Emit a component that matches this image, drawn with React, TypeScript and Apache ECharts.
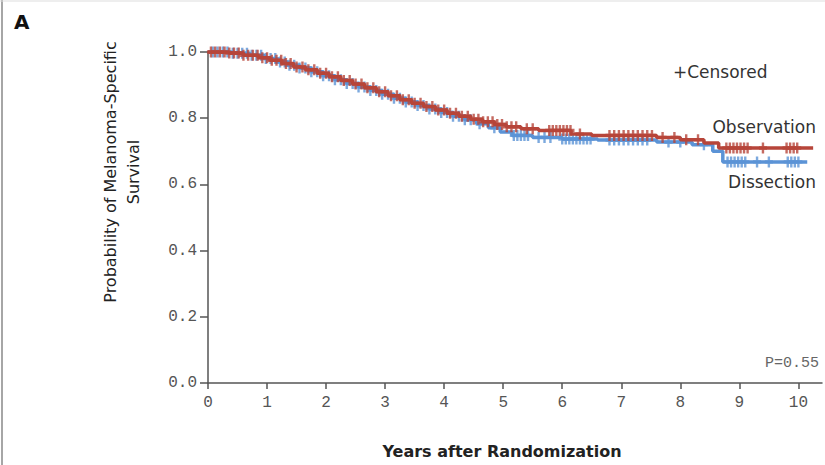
import React, { useEffect, useRef } from "react";
import * as echarts from "echarts";

// Kaplan-Meier step points [years, survival]
const observationSteps: [number, number][] = [
  [0, 1.0], [0.35, 0.997], [0.6, 0.99], [0.85, 0.983], [1.05, 0.975], [1.25, 0.965],
  [1.45, 0.955], [1.65, 0.946], [1.85, 0.936], [2.05, 0.925], [2.25, 0.914], [2.45, 0.903],
  [2.65, 0.892], [2.85, 0.88], [3.05, 0.868], [3.25, 0.856], [3.45, 0.845], [3.65, 0.835],
  [3.85, 0.825], [4.05, 0.815], [4.25, 0.806], [4.45, 0.797], [4.65, 0.789], [4.85, 0.781],
  [5.05, 0.774], [5.3, 0.768], [5.6, 0.763], [6.15, 0.752], [6.5, 0.748], [7.6, 0.742],
  [8.0, 0.735], [8.4, 0.725], [8.65, 0.71], [10.25, 0.71],
];
const dissectionSteps: [number, number][] = [
  [0, 1.0], [0.4, 0.996], [0.7, 0.99], [0.95, 0.98], [1.15, 0.97], [1.35, 0.96],
  [1.55, 0.952], [1.75, 0.94], [1.95, 0.928], [2.15, 0.916], [2.35, 0.905], [2.55, 0.894],
  [2.75, 0.884], [2.95, 0.872], [3.15, 0.86], [3.35, 0.849], [3.55, 0.838], [3.75, 0.828],
  [3.95, 0.817], [4.15, 0.806], [4.35, 0.795], [4.55, 0.783], [4.75, 0.771], [4.95, 0.758],
  [5.15, 0.748], [5.5, 0.742], [6.0, 0.737], [6.6, 0.734], [7.6, 0.728], [8.2, 0.72],
  [8.55, 0.7], [8.72, 0.668], [10.15, 0.668],
];

// censoring times (years)
const observationCensored: number[] = [
  0.05, 0.12, 0.2, 0.28, 0.36, 0.44, 0.52, 0.6, 0.68, 0.76, 0.84, 0.92, 1.0, 1.08, 1.16,
  1.24, 1.32, 1.4, 1.5, 1.6, 1.7, 1.8, 1.9, 2.0, 2.1, 2.2, 2.3, 2.4, 2.5, 2.6, 2.7, 2.8,
  2.9, 3.0, 3.1, 3.2, 3.3, 3.4, 3.5, 3.6, 3.7, 3.8, 3.9, 4.0, 4.1, 4.2, 4.3, 4.4, 4.5,
  4.58, 4.66, 4.74, 4.82, 4.9, 4.98, 5.06, 5.14, 5.22, 5.4, 5.5, 5.78, 5.84, 5.9, 5.96,
  6.02, 6.08, 6.14, 6.3, 6.8, 6.88, 6.96, 7.04, 7.12, 7.2, 7.28, 7.36, 7.44, 7.52, 7.7,
  7.9, 8.1, 8.3, 8.78, 8.84, 8.9, 8.96, 9.02, 9.08, 9.14, 9.4, 9.8, 9.86, 9.92, 9.98,
];
const dissectionCensored: number[] = [
  0.08, 0.16, 0.25, 0.33, 0.42, 0.5, 0.58, 0.66, 0.74, 0.82, 0.9, 0.98, 1.06, 1.14, 1.22,
  1.3, 1.38, 1.46, 1.55, 1.65, 1.75, 1.85, 1.95, 2.05, 2.15, 2.25, 2.35, 2.45, 2.55, 2.65,
  2.75, 2.85, 2.95, 3.05, 3.15, 3.25, 3.35, 3.45, 3.55, 3.65, 3.75, 3.85, 3.95, 4.05, 4.15,
  4.25, 4.35, 4.45, 4.6, 4.85, 5.18, 5.24, 5.3, 5.36, 5.42, 5.6, 5.7, 5.8, 6.0, 6.06, 6.12,
  6.18, 6.24, 6.3, 6.36, 6.42, 6.48, 6.8, 6.88, 6.96, 7.04, 7.12, 7.2, 7.28, 7.36, 7.44,
  7.8, 8.0, 8.4, 8.8, 8.86, 8.92, 8.98, 9.04, 9.1, 9.3, 9.5, 9.82, 9.88, 9.94, 10.0,
];

const xTicks = ["0", "1", "2", "3", "4", "5", "6", "7", "8", "9", "10"];
const yTicks = ["0.0", "0.2", "0.4", "0.6", "0.8", "1.0"];

const RED = "#b7453a";
const BLUE = "#5b93d6";
const PLUS = "path://M3.5,0H6.5V3.5H10V6.5H6.5V10H3.5V6.5H0V3.5H3.5Z";

function survivalAt(steps: [number, number][], t: number): number {
  let s = steps[0][1];
  for (const [x, v] of steps) {
    if (x <= t) s = v;
    else break;
  }
  return s;
}

export default function App() {
  const ref = useRef<HTMLDivElement>(null);
  useEffect(() => {
    if (!ref.current) return;
    const chart = echarts.init(ref.current, undefined, { renderer: "svg" });
    const tickFont = "Liberation Mono";
    const option: any = {
      animation: false,
      backgroundColor: "#ffffff",
      grid: { left: 208, right: 3, top: 52, bottom: 82, containLabel: false },
      xAxis: {
        type: "value",
        min: 0,
        max: 10.4,
        interval: 1,
        axisLine: { show: true, lineStyle: { color: "#555", width: 1.5 } },
        axisTick: { show: true, length: 6, lineStyle: { color: "#555", width: 1.5 } },
        axisLabel: {
          margin: 12,
          color: "#555",
          fontFamily: tickFont,
          fontSize: 16,
          formatter: (v: number) => (Number.isInteger(v) ? xTicks[v] ?? "" : ""),
          showMaxLabel: false,
        },
        splitLine: { show: false },
      },
      yAxis: {
        type: "value",
        min: 0,
        max: 1,
        interval: 0.2,
        axisLine: { show: true, lineStyle: { color: "#555", width: 1.5 } },
        axisTick: { show: true, length: 8, lineStyle: { color: "#555", width: 1.5 } },
        axisLabel: {
          margin: 11,
          color: "#555",
          fontFamily: tickFont,
          fontSize: 16,
          formatter: (v: number) => yTicks[Math.round(v * 5)] ?? "",
        },
        splitLine: { show: false },
      },
      series: [
        {
          name: "Dissection",
          type: "line",
          step: "end",
          showSymbol: false,
          data: dissectionSteps,
          lineStyle: { color: BLUE, width: 3.5 },
          z: 2,
        },
        {
          name: "Dissection censored",
          type: "scatter",
          symbol: PLUS,
          symbolSize: [8, 11],
          data: dissectionCensored.map((t) => [t, survivalAt(dissectionSteps, t)]),
          itemStyle: { color: BLUE },
          z: 3,
        },
        {
          name: "Observation",
          type: "line",
          step: "end",
          showSymbol: false,
          data: observationSteps,
          lineStyle: { color: RED, width: 3.5 },
          z: 4,
        },
        {
          name: "Observation censored",
          type: "scatter",
          symbol: PLUS,
          symbolSize: [8, 11],
          data: observationCensored.map((t) => [t, survivalAt(observationSteps, t)]),
          itemStyle: { color: RED },
          z: 5,
        },
      ],
      graphic: [
        { type: "line", shape: { x1: 2, y1: 0, x2: 2, y2: 465 }, style: { stroke: "#888", lineWidth: 1.5 } },
        { type: "line", shape: { x1: 0, y1: 1, x2: 825, y2: 1 }, style: { stroke: "#ddd", lineWidth: 1 } },
        {
          type: "text", x: 14, y: 12,
          style: { text: "A", font: "bold 20px 'DejaVu Sans'", fill: "#111" },
        },
        {
          type: "text", x: 122, y: 172, rotation: Math.PI / 2,
          style: {
            text: "Probability of Melanoma-Specific\nSurvival",
            font: "16px 'DejaVu Sans'", fill: "#222", align: "center", verticalAlign: "middle",
            lineHeight: 23,
          },
        },
        {
          type: "text", x: 502, y: 451,
          style: {
            text: "Years after Randomization", font: "bold 16px 'DejaVu Sans'", fill: "#222",
            align: "center", verticalAlign: "middle",
          },
        },
        {
          type: "text", x: 673, y: 72,
          style: { text: "+Censored", font: "17px 'DejaVu Sans'", fill: "#333", verticalAlign: "middle" },
        },
        {
          type: "text", x: 816, y: 127,
          style: { text: "Observation", font: "17px 'DejaVu Sans'", fill: "#333", align: "right", verticalAlign: "middle" },
        },
        {
          type: "text", x: 816, y: 182,
          style: { text: "Dissection", font: "17px 'DejaVu Sans'", fill: "#333", align: "right", verticalAlign: "middle" },
        },
        {
          type: "text", x: 819, y: 363,
          style: { text: "P=0.55", font: "15px 'Liberation Mono'", fill: "#666", align: "right", verticalAlign: "middle" },
        },
      ],
    };
    chart.setOption(option);
    return () => chart.dispose();
  }, []);
  return <div ref={ref} style={{ width: 825, height: 465, position: "absolute", left: 0, top: 0 }} />;
}
